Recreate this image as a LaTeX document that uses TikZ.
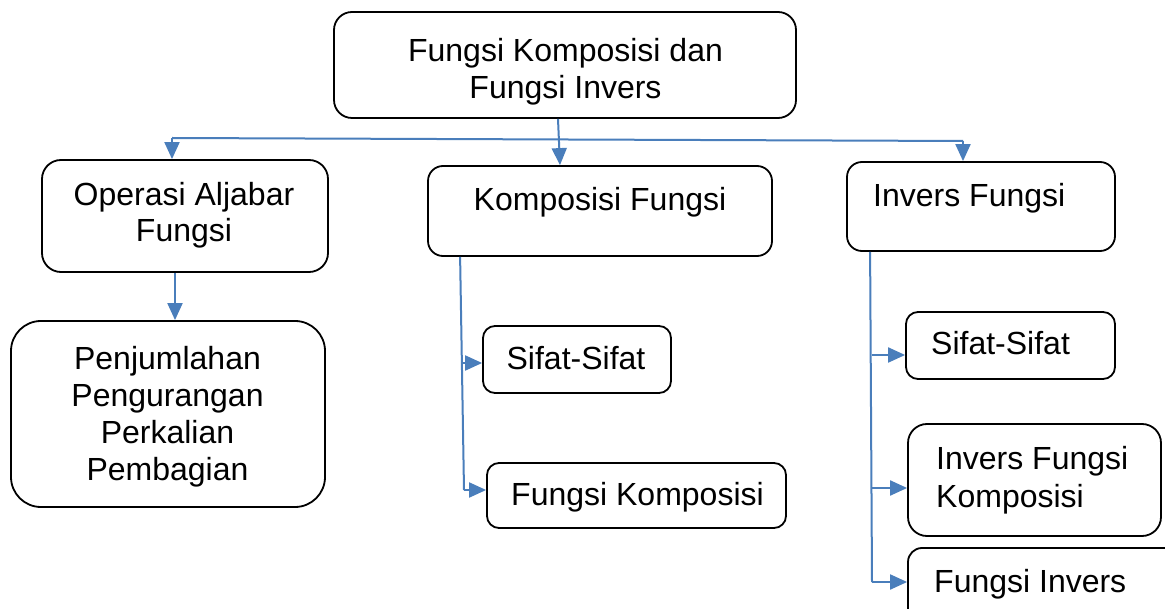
\documentclass[tikz,border=0pt]{standalone}
\usepackage{fontspec}
\setmainfont{Liberation Sans}
\usetikzlibrary{arrows.meta}
\definecolor{conncol}{HTML}{4A7EBB}
\begin{document}
\begin{tikzpicture}[x=1pt,y=-1pt,
  box/.style={draw=black, line width=1.8pt, rounded corners=#1, inner sep=0pt, fill=white},
  box/.default=14pt,
  txt/.style={inner sep=0pt, font=\fontsize{32}{37}\selectfont},
  link/.style={draw=conncol, line width=2pt},
  arr/.style={link, -{Triangle[length=17pt,width=15pt]}}]
\useasboundingbox (0,0) rectangle (1165,609);
\clip (0,0) rectangle (1165,609);

% boxes
\node[box=18pt, minimum width=462pt, minimum height=106pt] (top) at (565,65) {};
\node[box=19pt, minimum width=286pt, minimum height=112pt] (op) at (185,216) {};
\node[box=15pt, minimum width=344pt, minimum height=90pt] (kf) at (600,211) {};
\node[box=15pt, minimum width=268pt, minimum height=89pt] (if) at (981,206.5) {};
\node[box=30pt, minimum width=314pt, minimum height=186pt] (pj) at (168,414) {};
\node[box=12pt, minimum width=188pt, minimum height=67pt] (sf1) at (577,359.5) {};
\node[box=12pt, minimum width=299pt, minimum height=65pt] (fk) at (636.5,495.5) {};
\node[box=12pt, minimum width=209pt, minimum height=67pt] (sf2) at (1010.5,345.5) {};
\node[box=19pt, minimum width=253pt, minimum height=112pt] (ifk) at (1034.5,480) {};
\node[box=14pt, minimum width=282pt, minimum height=92pt] (fi) at (1049,594) {};

% texts
\node[txt, anchor=base] (t1) at (565.5,62) {Fungsi Komposisi dan};
\node[txt, anchor=base] (t2) at (565.5,99) {Fungsi Invers};
\node[txt, anchor=base] (t3) at (184,206) {Operasi Aljabar};
\node[txt, anchor=base] (t4) at (184,242) {Fungsi};
\node[txt, anchor=base] (t5) at (600,211) {Komposisi Fungsi};
\node[txt, anchor=base west] (t6) at (873,207) {Invers Fungsi};
\node[txt, anchor=base] (t7) at (167.5,370) {Penjumlahan};
\node[txt, anchor=base] (t8) at (167.5,407) {Pengurangan};
\node[txt, anchor=base] (t9) at (167.5,443) {Perkalian};
\node[txt, anchor=base] (t10) at (167.5,480) {Pembagian};
\node[txt, anchor=base] (t11) at (576,370) {Sifat-Sifat};
\node[txt, anchor=base] (t12) at (637.5,505) {Fungsi Komposisi};
\node[txt, anchor=base west] (t13) at (931,355) {Sifat-Sifat};
\node[txt, anchor=base west] (t14) at (936,470) {Invers Fungsi};
\node[txt, anchor=base west] (t15) at (936,507) {Komposisi};
\node[txt, anchor=base west] (t16) at (934,592) {Fungsi Invers};

% top connectors
\coordinate (hl) at (172,138);
\coordinate (hr) at (963,141);
\draw[link] (hl) -- (hr);
\draw[arr] ([xshift=-7pt]top.south) -- ([xshift=-40pt]kf.north);
\draw[arr] (hl) -- (hl |- op.north);
\draw[arr] (hr) -- (hr |- if.north);

% left
\coordinate (oa) at ([xshift=-10pt]op.south);
\draw[arr] (oa) -- (oa |- pj.north);

% middle
\coordinate (mt) at ([xshift=33pt]kf.south west);
\coordinate (mb) at (464,490);
\coordinate (m1) at (463,363);
\draw[link] (mt) -- (mb);
\draw[arr] (m1) -- (m1 -| sf1.west);
\draw[arr] (mb) -- (mb -| fk.west);

% right
\coordinate (rt) at ([xshift=24pt]if.south west);
\coordinate (rb) at (872,582);
\coordinate (r1) at (871.5,355);
\coordinate (r2) at (872,488);
\draw[link] (rt) -- (rb);
\draw[arr] (r1) -- (r1 -| sf2.west);
\draw[arr] (r2) -- (r2 -| ifk.west);
\draw[arr] (rb) -- (rb -| fi.west);
\end{tikzpicture}
\end{document}
